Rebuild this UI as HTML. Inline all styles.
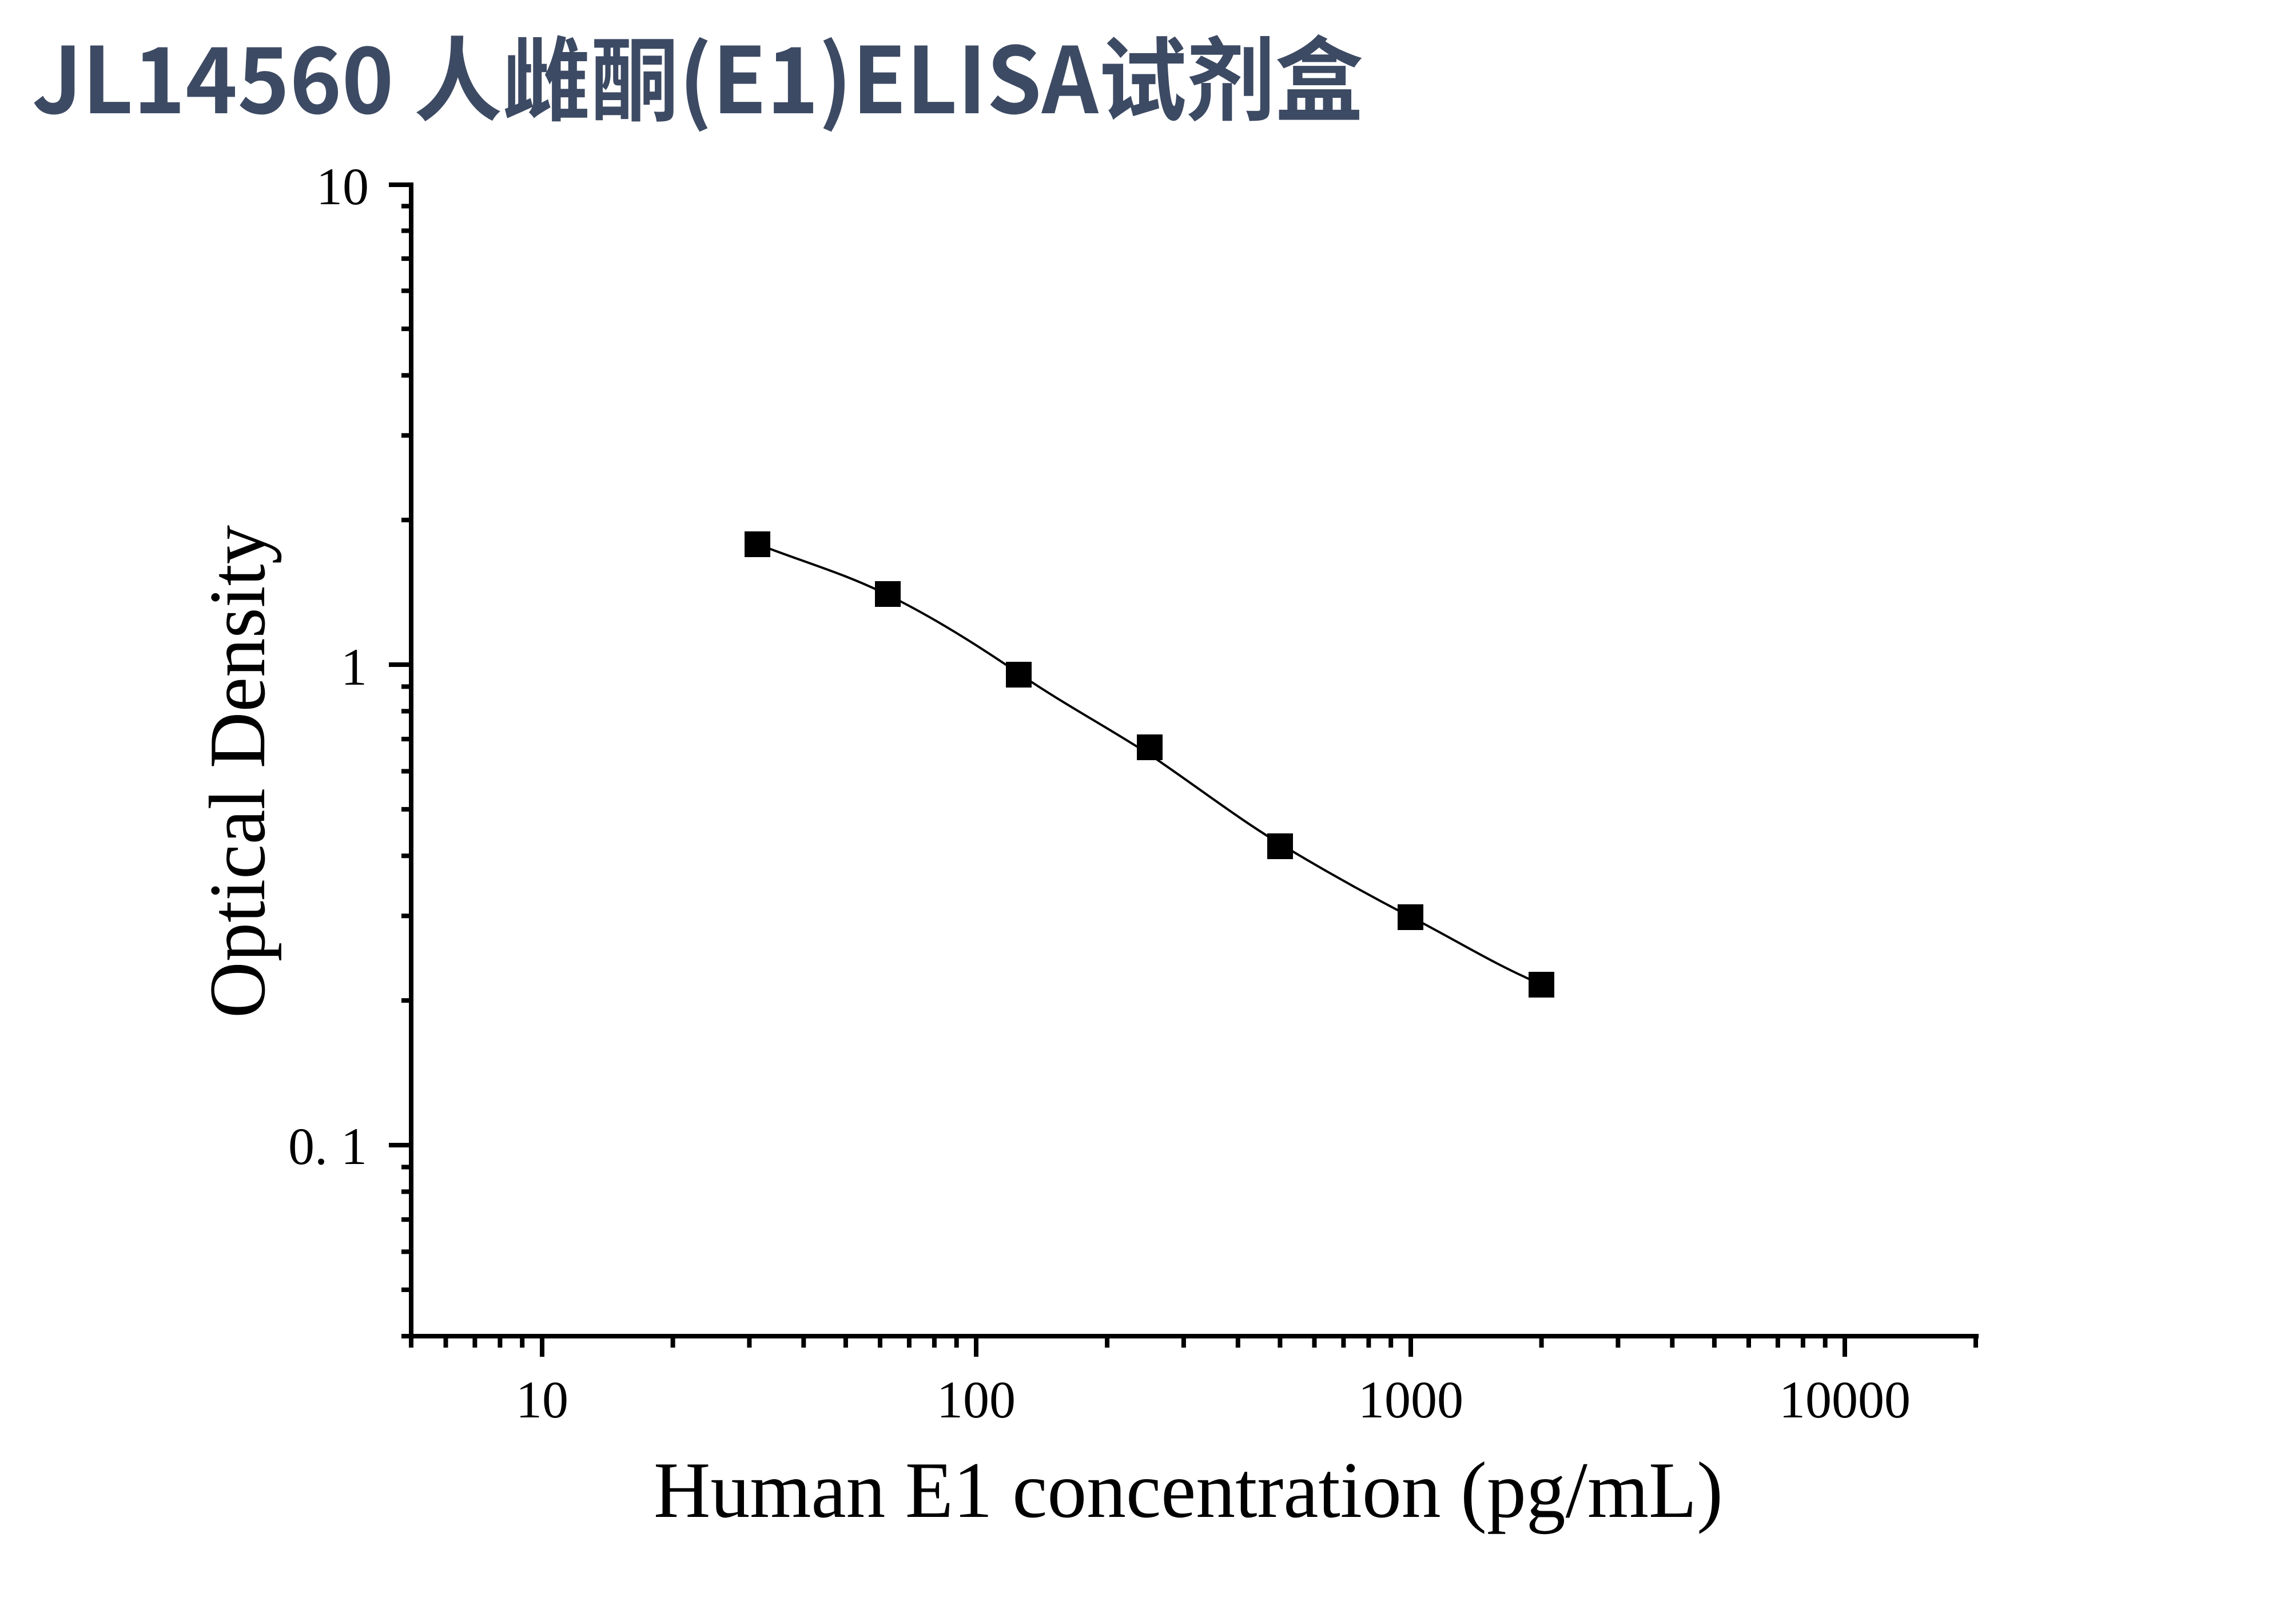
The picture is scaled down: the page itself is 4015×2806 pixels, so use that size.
<!DOCTYPE html>
<html><head><meta charset="utf-8"><style>
html,body{margin:0;padding:0;background:#fff;}
svg{display:block;}
</style></head><body>
<svg width="4015" height="2806" viewBox="0 0 4015 2806" xmlns="http://www.w3.org/2000/svg">
<rect width="4015" height="2806" fill="#fff"/>
<text x="56" y="198" font-family="'Noto Sans CJK SC','Liberation Sans',sans-serif" font-weight="bold" font-size="160" fill="#3d4a63" textLength="2328" lengthAdjust="spacingAndGlyphs">JL14560 人雌酮(E1)ELISA试剂盒</text>
<g stroke="#000" stroke-width="8" fill="none" stroke-linecap="butt">
<line x1="719" y1="319" x2="719" y2="2340"/>
<line x1="715" y1="2336" x2="3460" y2="2336"/>
<path d="M680 323H719 M680 1162H719 M680 2002H719 M702 2336H719
M948 2336V2372 M1707 2336V2372 M2467 2336V2372 M3226 2336V2372
M719 2336V2356 M3455 2336V2356
M779.5 2336V2356 M830.4 2336V2356 M874.4 2336V2356 M913.2 2336V2356
M1176.6 2336V2356 M1310.4 2336V2356 M1405.3 2336V2356 M1478.9 2336V2356 M1539 2336V2356 M1589.9 2336V2356 M1633.9 2336V2356 M1672.7 2336V2356
M1936.1 2336V2356 M2069.9 2336V2356 M2164.8 2336V2356 M2238.4 2336V2356 M2298.5 2336V2356 M2349.4 2336V2356 M2393.4 2336V2356 M2432.2 2336V2356
M2695.6 2336V2356 M2829.4 2336V2356 M2924.3 2336V2356 M2997.9 2336V2356 M3058 2336V2356 M3108.9 2336V2356 M3152.9 2336V2356 M3191.7 2336V2356
M702 909.1H719 M702 761.2H719 M702 656.3H719 M702 574.9H719 M702 508.4H719 M702 452.1H719 M702 403.4H719 M702 360.4H719
M702 1749.1H719 M702 1601.2H719 M702 1496.3H719 M702 1414.9H719 M702 1348.4H719 M702 1292.1H719 M702 1243.4H719 M702 1200.4H719
M702 2254.9H719 M702 2188.4H719 M702 2132.1H719 M702 2083.4H719 M702 2040.4H719"/>
</g>
<g font-family="'Liberation Serif',serif" font-size="92" fill="#000">
<text x="645" y="357" text-anchor="end">10</text>
<text x="642" y="1197" text-anchor="end">1</text>
<text x="642" y="2035" text-anchor="end">0. 1</text>
<text x="948" y="2478" text-anchor="middle">10</text>
<text x="1707" y="2478" text-anchor="middle">100</text>
<text x="2467" y="2478" text-anchor="middle">1000</text>
<text x="3226" y="2478" text-anchor="middle">10000</text>
</g>
<text x="2078" y="2652" text-anchor="middle" font-family="'Liberation Serif',serif" font-size="140" fill="#000" textLength="1870" lengthAdjust="spacingAndGlyphs">Human E1 concentration (pg/mL)</text>
<text transform="translate(462,1349) rotate(-90)" text-anchor="middle" font-family="'Liberation Serif',serif" font-size="140" fill="#000" textLength="862" lengthAdjust="spacingAndGlyphs">Optical Density</text>
<path d="M1324 951 C1400 981,1476 1002,1552 1040 C1628 1077,1705 1125,1781 1177 C1857 1229,1934 1270,2010 1319 C2086 1370,2162 1429,2238 1475 C2314 1521,2391 1564,2467 1603 C2543 1642,2620 1690,2696 1721" stroke="#000" stroke-width="4" fill="none"/>
<g fill="#000">
<rect x="1302" y="929" width="45" height="45"/>
<rect x="1530" y="1016" width="45" height="45"/>
<rect x="1759" y="1157" width="45" height="45"/>
<rect x="1988" y="1284" width="45" height="45"/>
<rect x="2216" y="1457" width="45" height="45"/>
<rect x="2444" y="1581" width="45" height="45"/>
<rect x="2673" y="1699" width="45" height="45"/>
</g>
</svg>
</body></html>
